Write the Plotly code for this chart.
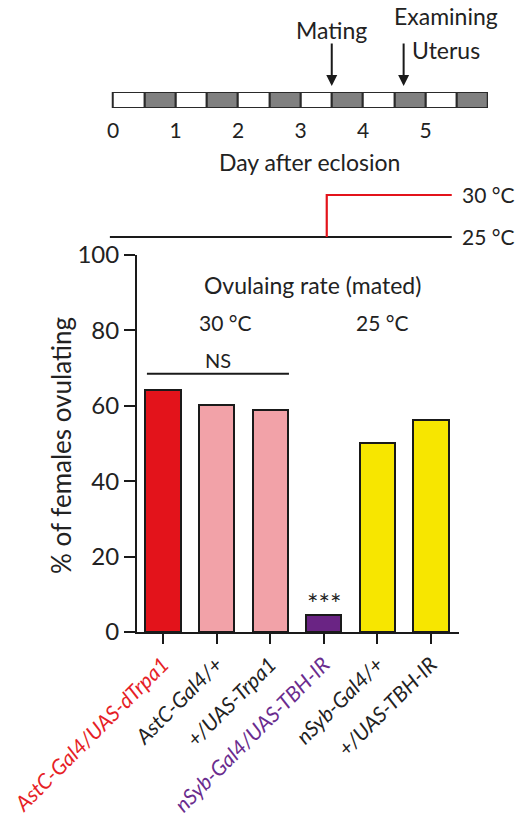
import plotly.graph_objects as go

W, H = 519, 833

# ---- data ----
genotypes = ["AstC-Gal4/UAS-dTrpa1", "AstC-Gal4/+", "+/UAS-Trpa1",
             "nSyb-Gal4/UAS-TBH-IR", "nSyb-Gal4/+", "+/UAS-TBH-IR"]
ovulating_pct = [64.2, 60.2, 58.9, 4.5, 50.1, 56.2]
bar_colors = ["#e3131b", "#f2a2a8", "#f2a2a8", "#6a2484", "#f7e600", "#f7e600"]
label_colors = ["#e61e26", "#222222", "#222222", "#6a2c8e", "#222222", "#222222"]

# timeline: 12 half-day segments (light / dark)
seg_centers = [0.25 + 0.5 * k for k in range(12)]
seg_colors = ["#ffffff" if k % 2 == 0 else "#808080" for k in range(12)]
day_ticks = [0, 1, 2, 3, 4, 5]
mating_day = 3.5
exam_day = 4.65

# temperature protocol
temp_black_x = [-0.05, 5.42]
temp_black_y = [25, 25]
temp_red_x = [3.42, 3.42, 5.42]
temp_red_y = [25, 30, 30]

FONT = "Lato, 'Open Sans', sans-serif"


def px_x(p):
    return p / W


def px_y(p):
    return (H - p) / H


fig = go.Figure()

# main bars
fig.add_trace(go.Bar(
    x=list(range(len(genotypes))), y=ovulating_pct, width=0.66,
    marker=dict(color=bar_colors, line=dict(color="#1a1a1a", width=2)),
    xaxis="x", yaxis="y", showlegend=False, hoverinfo="skip"))

# timeline bar
fig.add_trace(go.Bar(
    x=seg_centers, y=[1] * 12, width=0.5,
    marker=dict(color=seg_colors, line=dict(color="#2a2a2a", width=2)),
    xaxis="x2", yaxis="y2", showlegend=False, hoverinfo="skip"))

# temperature lines
fig.add_trace(go.Scatter(x=temp_black_x, y=temp_black_y,
                         mode="lines", line=dict(color="#1a1a1a", width=2.2),
                         xaxis="x2", yaxis="y3", showlegend=False, hoverinfo="skip"))
fig.add_trace(go.Scatter(x=temp_red_x, y=temp_red_y, mode="lines",
                         line=dict(color="#e3131b", width=2.2),
                         xaxis="x2", yaxis="y3", showlegend=False, hoverinfo="skip"))

ticktext = [f'<span style="color:{c}">{g}</span>' for g, c in zip(genotypes, label_colors)]

# x range: axis line from 137px to 459px, first category at 163px, 53.6 px per category
cat_px = 53.6
x_lo = -(163 - 137) / cat_px
x_hi = (459 - 163) / cat_px

# timeline axis: 62.5 px per day, day 0 at 113px
day_px = 62.5
t_lo, t_hi = -0.1, 6.0
t_left = 113 + t_lo * day_px
t_right = 113 + t_hi * day_px

fig.update_layout(
    width=W, height=H, margin=dict(l=0, r=0, t=0, b=0),
    paper_bgcolor="white", plot_bgcolor="rgba(0,0,0,0)",
    font=dict(family=FONT, color="#222222"),
    bargap=0,
    xaxis=dict(domain=[px_x(137), px_x(459)], range=[x_lo, x_hi],
               tickvals=list(range(len(genotypes))), ticktext=ticktext,
               tickangle=-45, tickfont=dict(size=21, style="italic"),
               ticks="outside", ticklen=10, tickwidth=2, tickcolor="#1a1a1a",
               showline=True, linewidth=2, linecolor="#1a1a1a",
               showgrid=False, zeroline=False, anchor="y", automargin=False),
    yaxis=dict(domain=[px_y(632), px_y(255)], range=[0, 100],
               tickvals=[0, 20, 40, 60, 80, 100], tickfont=dict(size=24),
               ticks="outside", ticklen=11, tickwidth=2, tickcolor="#1a1a1a",
               showline=True, linewidth=2, linecolor="#1a1a1a",
               showgrid=False, zeroline=False, anchor="x", automargin=False),
    xaxis2=dict(domain=[px_x(t_left), px_x(t_right)], range=[t_lo, t_hi],
                tickvals=day_ticks, ticktext=[str(d) for d in day_ticks],
                tickfont=dict(size=21), ticks="outside", ticklen=4,
                tickcolor="rgba(0,0,0,0)", showline=False, showgrid=False,
                zeroline=False, anchor="y2", automargin=False),
    yaxis2=dict(domain=[px_y(108), px_y(92)], range=[0, 1], visible=False,
                anchor="x2", automargin=False),
    yaxis3=dict(domain=[px_y(279), px_y(153)], range=[20, 35], visible=False,
                anchor="x2", automargin=False),
)

ann = []
# y-axis title
ann.append(dict(x=px_x(61), y=px_y(446), xref="paper", yref="paper",
                xanchor="center", yanchor="middle", textangle=-90,
                text="% of females ovulating", showarrow=False, font=dict(size=26)))
# main plot texts
ann.append(dict(x=2.78, y=92, xref="x", yref="y", text="Ovulaing rate (mated)",
                showarrow=False, font=dict(size=23)))
ann.append(dict(x=1.16, y=82, xref="x", yref="y", text="30 °C",
                showarrow=False, font=dict(size=21)))
ann.append(dict(x=4.09, y=82, xref="x", yref="y", text="25 °C",
                showarrow=False, font=dict(size=21)))
ann.append(dict(x=1.03, y=72.2, xref="x", yref="y", text="NS",
                showarrow=False, font=dict(size=20)))
ann.append(dict(x=3, y=7.6, xref="x", yref="y", text="***",
                showarrow=False, font=dict(size=27)))
# timeline texts
ann.append(dict(x=px_x(309), y=px_y(162), xref="paper", yref="paper",
                xanchor="center", yanchor="middle",
                text="Day after eclosion", showarrow=False, font=dict(size=23)))
ann.append(dict(x=mating_day, y=px_y(86), xref="x2", yref="paper", text="",
                showarrow=True, ax=0, ay=-44, arrowhead=2, arrowsize=1.1,
                arrowwidth=2, arrowcolor="#1a1a1a"))
ann.append(dict(x=exam_day, y=px_y(86), xref="x2", yref="paper", text="",
                showarrow=True, ax=0, ay=-44, arrowhead=2, arrowsize=1.1,
                arrowwidth=2, arrowcolor="#1a1a1a"))
ann.append(dict(x=mating_day, y=px_y(30), xref="x2", yref="paper",
                xanchor="center", yanchor="middle",
                text="Mating", showarrow=False, font=dict(size=23)))
ann.append(dict(x=px_x(446), y=px_y(16), xref="paper", yref="paper",
                xanchor="center", yanchor="middle",
                text="Examining", showarrow=False, font=dict(size=23)))
ann.append(dict(x=px_x(446), y=px_y(50), xref="paper", yref="paper",
                xanchor="center", yanchor="middle",
                text="Uterus", showarrow=False, font=dict(size=23)))
# temperature labels
ann.append(dict(x=px_x(460), y=30, xref="paper", yref="y3", text="30 °C",
                showarrow=False, xanchor="left", yanchor="middle", font=dict(size=21)))
ann.append(dict(x=px_x(460), y=25, xref="paper", yref="y3", text="25 °C",
                showarrow=False, xanchor="left", yanchor="middle", font=dict(size=21)))
fig.update_layout(annotations=ann)

# NS bracket line
fig.add_shape(type="line", xref="x", yref="y", x0=-0.3, x1=2.35, y0=68.5, y1=68.5,
              line=dict(color="#1a1a1a", width=2))

fig.write_html("out.html", config={"displayModeBar": False},
               post_script="document.body.style.margin='0';document.body.style.overflow='hidden';")
